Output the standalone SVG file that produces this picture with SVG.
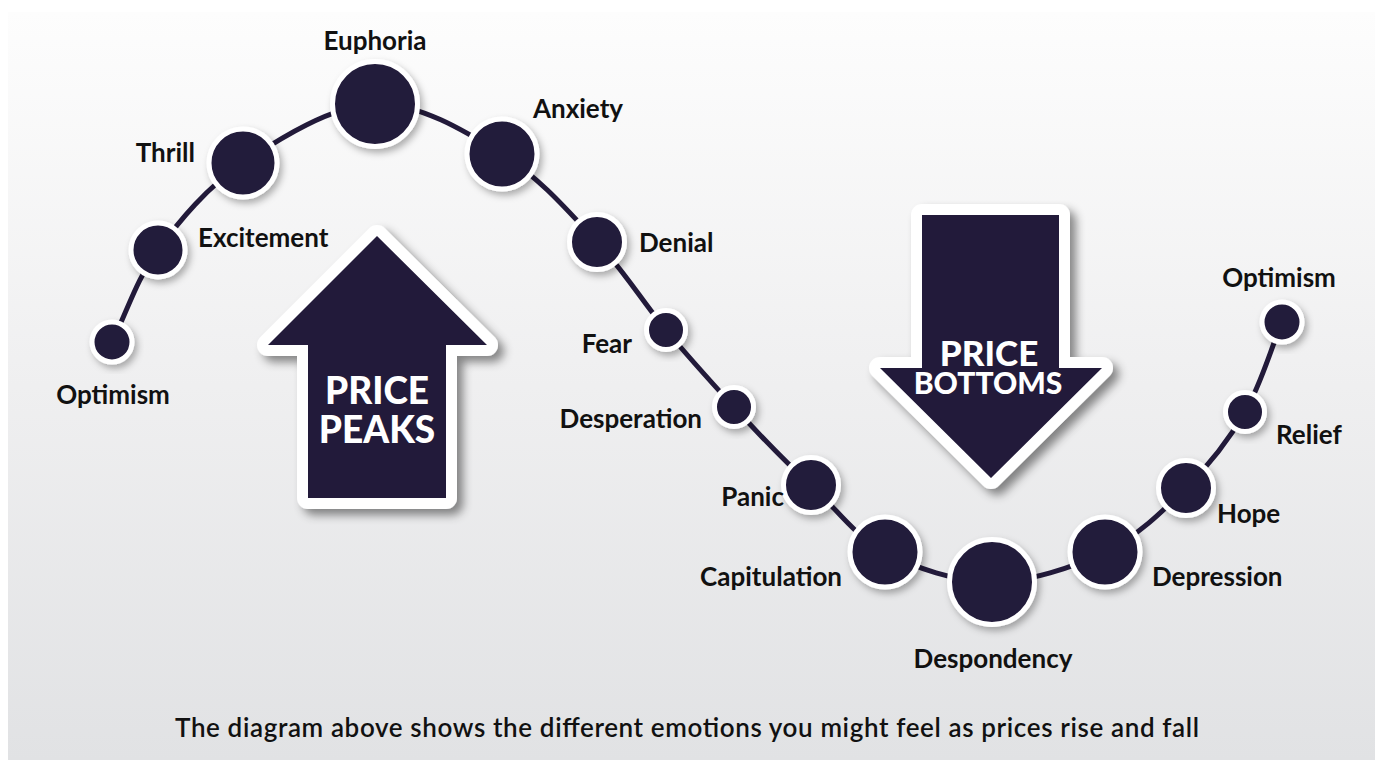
<svg xmlns="http://www.w3.org/2000/svg" width="1375" height="760" viewBox="0 0 1375 760">
<defs>
<linearGradient id="bg" x1="0" y1="0" x2="0" y2="1">
<stop offset="0" stop-color="#fdfdfd"/>
<stop offset="0.5" stop-color="#efeff0"/>
<stop offset="1" stop-color="#e1e2e4"/>
</linearGradient>
<filter id="sh" x="-30%" y="-30%" width="160%" height="160%">
<feDropShadow dx="3" dy="4" stdDeviation="3.5" flood-color="#000" flood-opacity="0.3"/>
</filter>
<filter id="ash" x="-20%" y="-20%" width="150%" height="150%">
<feDropShadow dx="6" dy="6" stdDeviation="5" flood-color="#000" flood-opacity="0.45"/>
</filter>
<style>
.n{fill:#221a3a;stroke:#fff;stroke-width:5;filter:url(#sh)}
.l{font-family:Lato,"Liberation Sans",sans-serif;font-weight:700;font-size:26px;fill:#111}
.aw{fill:#fff;stroke:#fff;stroke-width:22;stroke-linejoin:round;filter:url(#ash)}
.ad{fill:#221a3a}
.at{font-family:Lato,"Liberation Sans",sans-serif;font-weight:900;fill:#fff;text-anchor:middle}
.cap{font-family:Lato,"Liberation Sans",sans-serif;font-weight:600;font-size:26px;fill:#111;text-anchor:middle}
</style>
</defs>
<rect x="0" y="0" width="1375" height="760" fill="#fff"/>
<rect x="8" y="12" width="1367" height="748" fill="url(#bg)"/>

<g id="arrow-up">
<polygon class="aw" points="377,236 487,345 446,345 446,498 308,498 308,345 268,345"/>
<polygon class="ad" points="377,236 487,345 446,345 446,498 308,498 308,345 268,345"/>
<text class="at" font-size="37"><tspan x="377" y="404">PRICE</tspan><tspan x="377" y="443">PEAKS</tspan></text>
</g>
<g id="arrow-down">
<polygon class="aw" points="922,215 1059,215 1059,368 1102,368 991,478 880,368 922,368"/>
<polygon class="ad" points="922,215 1059,215 1059,368 1102,368 991,478 880,368 922,368"/>
<text class="at"><tspan x="989" y="366" font-size="35">PRICE</tspan><tspan x="988" y="394" font-size="30">BOTTOMS</tspan></text>
</g>

<g id="connectors">
<path d="M112,342 C127.3,311.3 136.2,279.8 158,250 C179.8,220.2 206.8,187.3 243,163 C279.2,138.7 331.8,105.5 375,104 C418.2,102.5 465,131 502,154 C539,177 569.7,212.7 597,242 C624.3,271.3 643.2,302.5 666,330 C688.8,357.5 710,380.8 734,407 C758,433.2 784.8,461.8 811,485 C836.2,508.2 854.7,536.2 885,552 C915.3,567.8 955.3,582 992,582 C1028.7,582 1072.7,567.7 1105,552 C1137.3,536.3 1162.7,511.3 1186,488 C1209.3,464.7 1229,439.7 1245,412 C1261,384.3 1269.7,352 1282,322" fill="none" stroke="#221a3a" stroke-width="5"/>
</g>

<g id="n-optimism1"><circle class="n" cx="112" cy="342" r="20"/><text class="l" x="113" y="404" text-anchor="middle">Optimism</text></g>
<g id="n-excitement"><circle class="n" cx="158" cy="250" r="27"/><text class="l" x="198" y="247">Excitement</text></g>
<g id="n-thrill"><circle class="n" cx="243" cy="163" r="34"/><text class="l" x="195" y="162" text-anchor="end">Thrill</text></g>
<g id="n-euphoria"><circle class="n" cx="375" cy="104" r="42.5"/><text class="l" x="375" y="50" text-anchor="middle">Euphoria</text></g>
<g id="n-anxiety"><circle class="n" cx="502" cy="154" r="35"/><text class="l" x="533" y="118">Anxiety</text></g>
<g id="n-denial"><circle class="n" cx="597" cy="242" r="27.5"/><text class="l" x="639" y="252">Denial</text></g>
<g id="n-fear"><circle class="n" cx="666" cy="330" r="19.5"/><text class="l" x="632" y="353" text-anchor="end">Fear</text></g>
<g id="n-desperation"><circle class="n" cx="734" cy="407" r="19.5"/><text class="l" x="702" y="428" text-anchor="end">Desperation</text></g>
<g id="n-panic"><circle class="n" cx="811" cy="485" r="27.5"/><text class="l" x="784" y="506" text-anchor="end">Panic</text></g>
<g id="n-capitulation"><circle class="n" cx="885" cy="552" r="35"/><text class="l" x="842" y="586" text-anchor="end">Capitulation</text></g>
<g id="n-despondency"><circle class="n" cx="992" cy="582" r="42.5"/><text class="l" x="993" y="668" text-anchor="middle">Despondency</text></g>
<g id="n-depression"><circle class="n" cx="1105" cy="552" r="35"/><text class="l" x="1152" y="586">Depression</text></g>
<g id="n-hope"><circle class="n" cx="1186" cy="488" r="27.5"/><text class="l" x="1217" y="523">Hope</text></g>
<g id="n-relief"><circle class="n" cx="1245" cy="412" r="19.5"/><text class="l" x="1276" y="444">Relief</text></g>
<g id="n-optimism2"><circle class="n" cx="1282" cy="322" r="20"/><text class="l" x="1279" y="287" text-anchor="middle">Optimism</text></g>

<text class="cap" x="687" y="737" textLength="1024" lengthAdjust="spacing">The diagram above shows the different emotions you might feel as prices rise and fall</text>
</svg>
